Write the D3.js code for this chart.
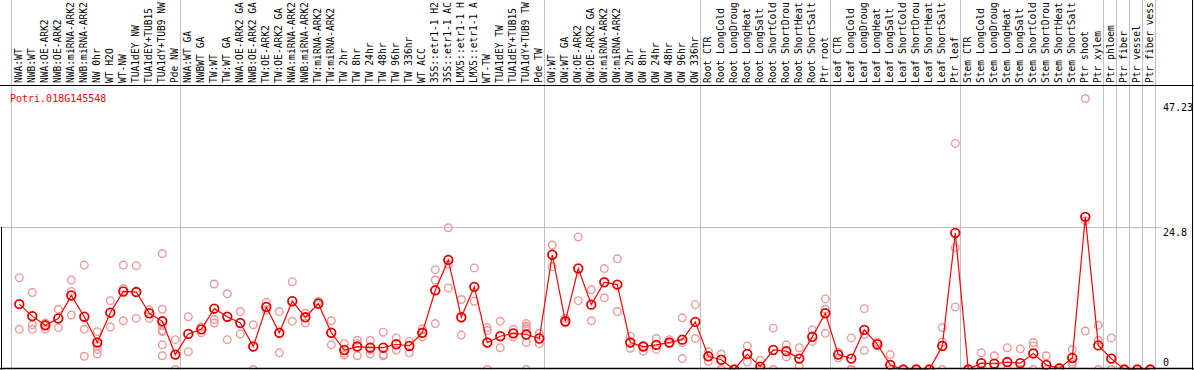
<!DOCTYPE html>
<html>
<head>
<meta charset="utf-8">
<script src="https://cdn.jsdelivr.net/npm/d3@7/dist/d3.min.js"></script>
<style>
  html, body { margin: 0; padding: 0; background: #fff; }
  svg { display: block; }
  text { font-family: "DejaVu Sans Mono", monospace; font-size: 10px; }
  .cat { font-size: 9.6px; }
</style>
</head>
<body>
<svg id="chart" width="1194" height="370"></svg>
<script>
const categories = [
  "NWA:WT","NWB:WT","NWA:OE-ARK2","NWB:OE-ARK2","NWA:miRNA-ARK2","NWB:miRNA-ARK2","NW 0hr","WT H2O","WT-NW","TUA1dEY NW","TUA1dEY+TUB15","TUA1dY+TUB9 NW","Pde NW",
  "NWA:WT GA","NWBWT GA","TW:WT","TW:WT GA","NWA:OE-ARK2 GA","NWB:OE-ARK2 GA","TW:OE-ARK2","TW:OE-ARK2 GA","NWA:miRNA-ARK2","NWB:miRNA-ARK2","TW:miRNA-ARK2","TW:miRNA-ARK2","TW 2hr","TW 8hr","TW 24hr","TW 48hr","TW 96hr","TW 336hr","WT ACC","35S::etr1-1 H2","35S::etr1-1 AC","LMX5::etr1-1 H","LMX5::etr1-1 A","WT-TW","TUA1dEY TW","TUA1dEY+TUB15","TUA1dY+TUB9 TW","Pde TW",
  "OW:WT","OW:WT GA","OW:OE-ARK2","OW:OE-ARK2 GA","OW:miRNA-ARK2","OW:miRNA-ARK2","OW 2hr","OW 8hr","OW 24hr","OW 48hr","OW 96hr","OW 336hr",
  "Root CTR","Root LongCold","Root LongDroug","Root LongHeat","Root LongSalt","Root ShortCold","Root ShortDrou","Root ShortHeat","Root ShortSalt","Ptr root",
  "Leaf CTR","Leaf LongCold","Leaf LongDroug","Leaf LongHeat","Leaf LongSalt","Leaf ShortCold","Leaf ShortDrou","Leaf ShortHeat","Leaf ShortSalt","Ptr leaf",
  "Stem CTR","Stem LongCold","Stem LongDroug","Stem LongHeat","Stem LongSalt","Stem ShortCold","Stem ShortDrou","Stem ShortHeat","Stem ShortSalt","Ptr shoot","Ptr xylem",
  "Ptr phloem","Ptr fiber","Ptr vessel","Ptr fiber vess"
];

// index of first column of each group (vertical separators)
const groupStarts = [0, 13, 41, 53, 63, 73, 84, 85, 86, 87, 88];

const means = [
  11.4, 9.3, 7.7, 8.9, 12.9, 9.2, 4.7, 9.9, 13.6, 13.5, 9.8, 8.4, 2.6,
  6.2, 7.0, 10.6, 9.2, 8.1, 4.0, 10.9, 6.4, 11.9, 9.1, 11.5, 6.4, 3.4, 4.0, 3.8, 3.8, 4.4, 4.1, 6.4, 13.8, 19.1, 9.1, 14.4, 4.7, 5.8, 6.3, 6.1, 5.4,
  20.0, 8.4, 17.6, 11.3, 15.2, 14.8, 4.7, 4.0, 4.3, 4.7, 5.2, 8.3,
  2.3, 1.7, 0, 2.7, 0.5, 3.4, 3.2, 1.9, 5.7, 9.8,
  2.6, 1.9, 6.9, 4.4, 0.8, 0, 0, 0, 4.1, 23.8,
  0, 1.1, 1.0, 1.3, 1.1, 2.8, 0.8, 0.2, 2.0, 26.6, 4.2,
  1.9, 0, 0, 0
];

const replicates = [
  [16.0, 7.0], [13.4, 7.8, 7.0], [8.1, 7.7, 7.0], [10.5, 7.3], [15.6, 13.6, 9.5], [18.2, 7.0, 2.3], [6.6, 4.1, 3.5, 2.7], [12.0, 7.4], [18.2, 14.1, 8.5], [18.1, 8.9], [10.4, 8.9], [20.2, 10.5, 7.6, 6.8, 6.6, 4.3, 2.4], [5.2, 0],
  [9.2, 3.1], [7.4, 6.4], [14.9, 8.7, 8.1], [13.2, 5.2], [10.1, 6.2], [7.8, 0], [11.7, 10.3], [10.1, 2.9], [15.3, 8.4], [9.8, 8.1], [11.9, 11.3], [8.5, 4.3], [4.5, 2.8, 2.5], [5.1, 4.5, 2.4], [5.1, 3.4, 2.7], [6.5, 2.6, 2.4], [5.5, 3.4], [4.9, 2.9], [7.1, 5.7], [17.4, 15.6, 8.0], [24.7, 18.3, 14.2], [12.2, 6.0], [17.7, 11.9], [7.3, 6.8, 0], [8.4, 3.8], [7.0, 5.7], [8.0, 7.6, 7.3, 7.0, 4.7, 0], [6.3, 4.5],
  [21.7, 17.9], [8.9, 8.1], [23.1, 12.0], [13.9, 8.5], [17.6, 12.5], [19.3, 10.1], [5.8, 3.7], [4.1, 3.2], [5.4, 3.5], [5.2, 4.5], [9.0, 4.7, 1.9], [11.3, 5.4],
  [3.1, 1.4], [2.7, 0], [0, 0], [4.1, 1.3], [1.6, 0], [7.2, 0], [4.3, 2.2], [3.8, 0.6], [6.9, 4.9], [12.3, 10.5, 6.3],
  [3.0, 2.0], [5.5, 0, 0], [10.6, 6.1, 3.3], [4.8, 4.1], [2.6, 0], [0, 0], [0, 0], [0, 0], [7.3, 4.8, 0], [39.4, 21.2, 10.9],
  [0, 0], [2.9, 0.5], [2.4, 0.5], [3.8, 0], [3.6, 0], [4.7, 4.1, 0], [2.4, 0], [0.4, 0], [3.5, 1.3, 0.9], [47.23, 25.9, 6.7], [7.7, 5.1, 0],
  [5.5, 0], [0, 0], [0, 0], [0, 0]
];

const geneName = "Potri.018G145548";
const tickValues = [47.23, 24.8, 0];
const tickLabels = ["47.23", "24.8", "0"];
const gridValues = [24.8];

const W = 1194, H = 370;
const labelBottom = 85;
const plotBottom = 369.5;

const svg = d3.select("#chart");

const x = d3.scaleBand()
  .domain(d3.range(categories.length))
  .range([11, 11 + 13 * categories.length])
  .paddingInner(0).paddingOuter(0);
const cx = i => x(i) + 8.3;

const y = d3.scaleLinear().domain([0, 47.23]).range([369.5, 98.5]);

// horizontal grid
svg.append("g").selectAll("line").data(gridValues).join("line")
  .attr("x1", 0).attr("x2", 1160)
  .attr("y1", d => Math.round(y(d)) + 0.5).attr("y2", d => Math.round(y(d)) + 0.5)
  .attr("stroke", "#c0c0c0").attr("stroke-width", 1);

// vertical group separators
svg.append("g").selectAll("line").data(groupStarts).join("line")
  .attr("x1", d => (d === categories.length ? x.range()[1] : x(d)) + 0.5)
  .attr("x2", d => (d === categories.length ? x.range()[1] : x(d)) + 0.5)
  .attr("y1", 0).attr("y2", H)
  .attr("stroke", "#c0c0c0").attr("stroke-width", 1);

// category labels (rotated)
svg.append("g").selectAll("text").data(categories).join("text")
  .attr("class", "cat")
  .attr("transform", (d, i) => `translate(${cx(i) + 2.6},${labelBottom - 2}) rotate(-90)`)
  .attr("text-anchor", "start")
  .attr("fill", "#000")
  .text(d => d);

// plot clip
svg.append("clipPath").attr("id", "plotclip")
  .append("rect").attr("x", 0).attr("y", labelBottom).attr("width", 1193).attr("height", plotBottom - labelBottom);

const plot = svg.append("g").attr("clip-path", "url(#plotclip)");

// replicate points
const repPts = [];
replicates.forEach((arr, i) => arr.forEach(v => repPts.push({ i, v })));
plot.append("g").selectAll("circle").data(repPts).join("circle")
  .attr("cx", d => cx(d.i)).attr("cy", d => y(d.v)).attr("r", 3.8)
  .attr("fill", "none").attr("stroke", "#ec9a9a").attr("stroke-width", 1.4);

// mean line
plot.append("path").datum(means)
  .attr("d", d3.line().x((d, i) => cx(i)).y(d => y(d)))
  .attr("fill", "none").attr("stroke", "#ff0000").attr("stroke-width", 1.2);

// mean points
const mg = plot.append("g").selectAll("g").data(means).join("g");
mg.append("circle")
  .attr("cx", (d, i) => cx(i)).attr("cy", d => y(d)).attr("r", 4.3)
  .attr("fill", "none").attr("stroke", "#ff0000").attr("stroke-width", 1.8);
mg.append("circle")
  .attr("cx", (d, i) => cx(i)).attr("cy", d => y(d)).attr("r", 4.3)
  .attr("fill", "none").attr("stroke", "#500000").attr("stroke-width", 0.6)
  .attr("stroke-dasharray", "1.2 2.2");

// gene name
svg.append("text").attr("x", 10).attr("y", 101.5).attr("fill", "#ff0000").text(geneName);

// right tick labels
svg.append("g").selectAll("text").data(tickValues).join("text")
  .attr("x", 1163)
  .attr("y", d => Math.min(Math.max(y(d) + 9, 110.5), 366))
  .attr("fill", "#000")
  .text((d, i) => tickLabels[i]);

// borders
svg.append("line").attr("x1", 0).attr("x2", W).attr("y1", labelBottom + 0.5).attr("y2", labelBottom + 0.5)
  .attr("stroke", "#000").attr("stroke-width", 1);
svg.append("line").attr("x1", 0).attr("x2", W).attr("y1", H - 1.5).attr("y2", H - 1.5)
  .attr("stroke", "#000").attr("stroke-width", 1.5);
svg.append("line").attr("x1", W - 1.5).attr("x2", W - 1.5).attr("y1", 0).attr("y2", H)
  .attr("stroke", "#000").attr("stroke-width", 1);
svg.append("line").attr("x1", 1.5).attr("x2", 1.5).attr("y1", Math.round(y(24.8))).attr("y2", H)
  .attr("stroke", "#000").attr("stroke-width", 1);
</script>
</body>
</html>
